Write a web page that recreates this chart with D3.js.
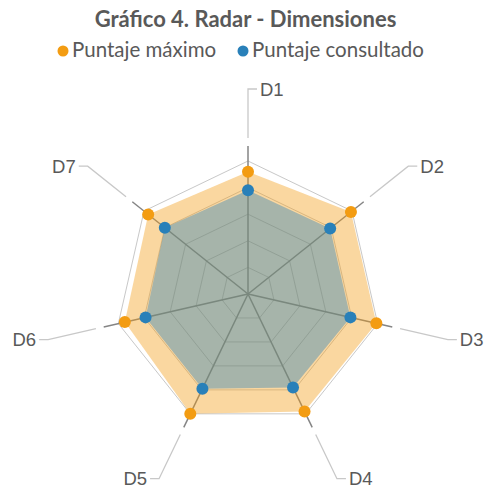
<!DOCTYPE html>
<html>
<head>
<meta charset="utf-8">
<script src="https://cdn.jsdelivr.net/npm/d3@7"></script>
<style>
  body { margin: 0; background: #fff; }
</style>
</head>
<body>
<script>
// datos del gráfico
const dims = ['D1', 'D2', 'D3', 'D4', 'D5', 'D6', 'D7'];
const maxScore = [92, 99, 99, 98, 100, 95, 96];
const consulted = [78, 79, 79, 78, 79, 79, 80];
const levels = [20, 40, 60, 80, 100];
const seriesNames = ['Puntaje máximo', 'Puntaje consultado'];
const colors = ['#f39c12', '#2980b9'];

const width = 486, height = 489;
const cx = 248, cy = 294, R = 133;

const svg = d3.select('body').append('svg')
  .attr('width', width)
  .attr('height', height);

const rScale = d3.scaleLinear().domain([0, 100]).range([0, R]);
const aScale = d3.scaleLinear().domain([0, dims.length]).range([0, 2 * Math.PI]);
const pt = (i, rad) => [Math.sin(aScale(i)) * rad, -Math.cos(aScale(i)) * rad];

const poly = d3.lineRadial()
  .angle((d, i) => aScale(i))
  .radius(d => rScale(d))
  .curve(d3.curveLinearClosed);

const g = svg.append('g').attr('transform', `translate(${cx},${cy})`);

// rejilla
g.selectAll('path.grid').data(levels).join('path')
  .attr('class', 'grid')
  .attr('d', lv => poly(dims.map(() => lv)))
  .attr('fill', 'none')
  .attr('stroke', '#c8c8c8')
  .attr('stroke-width', 1);

// ejes
g.selectAll('line.axis').data(dims).join('line')
  .attr('class', 'axis')
  .attr('x1', 0).attr('y1', 0)
  .attr('x2', (d, i) => pt(i, 148)[0])
  .attr('y2', (d, i) => pt(i, 148)[1])
  .attr('stroke', '#858585')
  .attr('stroke-width', 1.5);

// áreas
const series = [maxScore, consulted];
g.selectAll('path.area').data(series).join('path')
  .attr('class', 'area')
  .attr('d', d => poly(d))
  .attr('fill', (d, i) => colors[i])
  .attr('fill-opacity', 0.4)
  .attr('stroke', 'none');

// marcadores
series.forEach((s, k) => {
  g.selectAll('circle.m' + k).data(s).join('circle')
    .attr('class', 'm' + k)
    .attr('cx', (d, i) => pt(i, rScale(d))[0])
    .attr('cy', (d, i) => pt(i, rScale(d))[1])
    .attr('r', 6)
    .attr('fill', colors[k]);
});

// etiquetas con líneas guía
dims.forEach((name, i) => {
  const side = Math.sin(aScale(i)) >= -1e-9 ? 1 : -1;
  const p0 = pt(i, 156), p1 = pt(i, 205);
  const p2 = [p1[0] + side * 9, p1[1]];
  g.append('path')
    .attr('d', d3.line()([p0, p1, p2]))
    .attr('fill', 'none')
    .attr('stroke', '#c8c8c8')
    .attr('stroke-width', 1.3);
  g.append('text')
    .attr('x', p2[0] + side * 3)
    .attr('y', p2[1] + 6.5)
    .attr('text-anchor', side > 0 ? 'start' : 'end')
    .attr('font-family', '"Liberation Sans", Arial, sans-serif')
    .attr('font-size', 18.5)
    .attr('fill', '#595959')
    .text(name);
});

// título
svg.append('text')
  .attr('x', 245.5).attr('y', 27)
  .attr('text-anchor', 'middle')
  .attr('font-family', 'Lato, sans-serif')
  .attr('font-weight', 'bold')
  .attr('font-size', 22)
  .attr('fill', '#595959')
  .text('Gráfico 4. Radar - Dimensiones');

// leyenda
const legX = [63, 243];
seriesNames.forEach((n, i) => {
  svg.append('circle')
    .attr('cx', legX[i]).attr('cy', 51)
    .attr('r', 5.5)
    .attr('fill', colors[i]);
  svg.append('text')
    .attr('x', legX[i] + 9).attr('y', 57)
    .attr('font-family', 'Lato, sans-serif')
    .attr('font-size', 20.5)
    .attr('fill', '#595959')
    .text(n);
});
</script>
</body>
</html>
